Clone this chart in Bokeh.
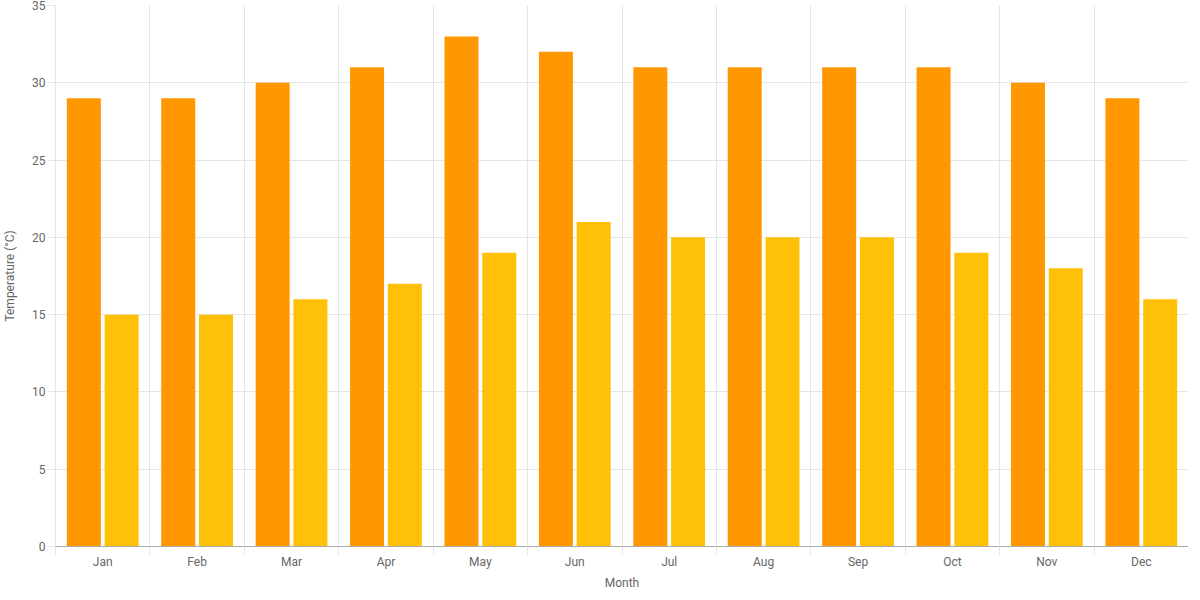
from bokeh.plotting import figure
from bokeh.models import ColumnDataSource, FixedTicker, Range1d
from bokeh.transform import dodge
from bokeh.embed import file_html
from bokeh.resources import INLINE

months = ["Jan", "Feb", "Mar", "Apr", "May", "Jun",
          "Jul", "Aug", "Sep", "Oct", "Nov", "Dec"]
high_temps = [29, 29, 30, 31, 33, 32, 31, 31, 31, 31, 30, 29]
low_temps = [15, 15, 16, 17, 19, 21, 20, 20, 20, 19, 18, 16]
y_ticks = [0, 5, 10, 15, 20, 25, 30, 35]

centers = [i + 0.5 for i in range(len(months))]
bounds = [float(i) for i in range(len(months) + 1)]

source = ColumnDataSource(data=dict(x=centers, high=high_temps, low=low_temps))

p = figure(
    width=1188,
    height=592,
    x_range=Range1d(0, len(months)),
    y_range=Range1d(0, 35),
    x_axis_label="Month",
    y_axis_label="Temperature (°C)",
    output_backend="svg",
    toolbar_location=None,
    min_border_top=5,
    min_border_right=0,
    min_border_left=55,
    min_border_bottom=0,
)
p.outline_line_color = None

# highs and lows side by side
p.vbar(x=dodge("x", -0.2), top="high", width=0.36, source=source,
       fill_color="#FF9800", line_color=None)
p.vbar(x=dodge("x", 0.2), top="low", width=0.36, source=source,
       fill_color="#FFC107", line_color=None)

font = "Roboto"
grid_color = "#e5e5e5"

p.xaxis.ticker = FixedTicker(ticks=centers, minor_ticks=bounds)
p.xaxis.major_label_overrides = {c: m for c, m in zip(centers, months)}
p.xaxis.major_tick_line_color = None
p.xaxis.major_tick_in = 0
p.xaxis.major_tick_out = 8
p.xaxis.minor_tick_line_color = grid_color
p.xaxis.minor_tick_in = 0
p.xaxis.minor_tick_out = 8
p.xaxis.major_label_standoff = 0
p.xaxis.axis_label_standoff = 4
p.xaxis.axis_line_color = "#aaaaaa"
p.xgrid.ticker = FixedTicker(ticks=bounds)
p.xgrid.grid_line_color = grid_color

p.yaxis.ticker = FixedTicker(ticks=y_ticks)
p.yaxis.major_tick_line_color = grid_color
p.yaxis.major_tick_in = 0
p.yaxis.major_tick_out = 8
p.yaxis.major_label_standoff = 2
p.yaxis.axis_label_standoff = 12
p.yaxis.minor_tick_line_color = None
p.yaxis.axis_line_color = grid_color
p.ygrid.grid_line_color = grid_color

for ax in (p.xaxis[0], p.yaxis[0]):
    ax.major_label_text_font = font
    ax.major_label_text_font_size = "12px"
    ax.major_label_text_color = "#666666"
    ax.axis_label_text_font = font
    ax.axis_label_text_font_size = "12px"
    ax.axis_label_text_font_style = "normal"
    ax.axis_label_text_color = "#666666"

open("out.html", "w").write(file_html(p, INLINE))
